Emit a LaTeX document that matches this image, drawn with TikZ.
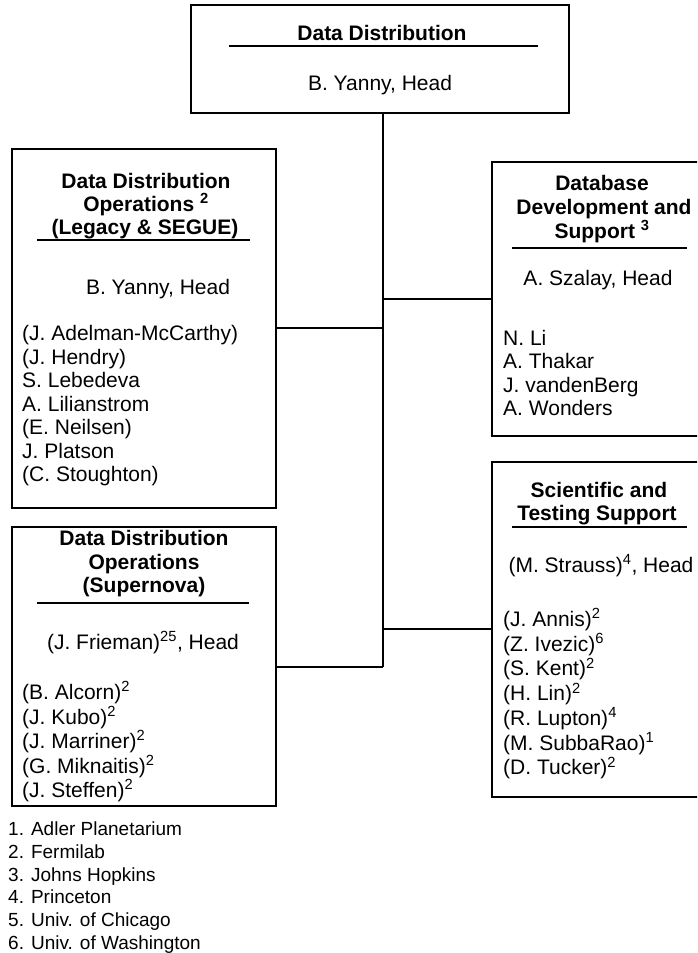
\documentclass[tikz,border=0pt]{standalone}
\usepackage{fontspec}
\setmainfont{Liberation Sans}
\newcommand\orgsize{\fontsize{21}{23.5}\selectfont}
\newcommand\notesize{\fontsize{19}{22}\selectfont}
\begin{document}
\begin{tikzpicture}[x=1pt,y=-1pt,
  orgbox/.style={draw, line width=1.2pt, inner sep=0pt, outer sep=0pt, anchor=north west},
  ttl/.style={anchor=base, inner sep=0pt, font=\orgsize\bfseries},
  txt/.style={anchor=base, inner sep=0pt, font=\orgsize},
  mem/.style={anchor=base west, inner sep=0pt, font=\orgsize},
  note/.style={anchor=base west, inner sep=0pt, font=\notesize},
  hrule/.style={line width=1.1pt},
  link/.style={line width=1.2pt},
  trunk/.style={line width=1.8pt}]
\useasboundingbox (0,0) rectangle (697,953);
\clip (0,0) rectangle (697,953);
\fill[white] (0,0) rectangle (697,953);

% boxes
\node[orgbox, minimum width=378, minimum height=108] (dd)  at (191,5)   {};
\node[orgbox, minimum width=264, minimum height=359] (ops) at (12,149)  {};
\node[orgbox, minimum width=230, minimum height=274] (dbs) at (492,162) {};
\node[orgbox, minimum width=264, minimum height=279] (sn)  at (12,527)  {};
\node[orgbox, minimum width=230, minimum height=335] (sci) at (492,462) {};

% trunk and branches
\coordinate (jA) at (383,299);
\coordinate (jB) at (383,328);
\coordinate (jC) at (383,629);
\coordinate (jD) at (383,667);
\draw[trunk] (dd.south -| jA) -- (jD);
\draw[link] (jA) -- (jA -| dbs.west);
\draw[link] (jB) -- (jB -| ops.east);
\draw[link] (jC) -- (jC -| sci.west);
\draw[link] (jD) -- (jD -| sn.east);

% Data Distribution
\node[ttl] (ddT) at (382,40.5) {Data Distribution};
\draw[hrule] (229,46) -- (538,46);
\node[txt] (ddH) at (380,90.5) {B. Yanny, Head};

% Data Distribution Operations (Legacy & SEGUE)
\node[ttl] (opsT1) at (146,188.5) {Data Distribution};
\node[ttl] (opsT2) at (146,211.5) {Operations \textsuperscript{2}};
\node[ttl] (opsT3) at (145,234.5) {(Legacy \& SEGUE)};
\draw[hrule] (37,240) -- (250,240);
\node[txt] (opsH) at (158,294.5) {B. Yanny, Head};
\foreach \t [count=\i from 0] in {(J. Adelman-McCarthy),(J. Hendry),S. Lebedeva,A. Lilianstrom,(E. Neilsen),J. Platson,(C. Stoughton)}
  \node[mem] (opsM\i) at (22,340.5+23.5*\i) {\t};

% Database Development and Support
\node[ttl] (dbsT1) at (602,190) {Database};
\node[ttl] (dbsT2) at (604,214) {Development and};
\node[ttl] (dbsT3) at (602,238) {Support \textsuperscript{3}};
\draw[hrule] (512,248) -- (687,248);
\node[txt] (dbsH) at (598,285.5) {A. Szalay, Head};
\foreach \t [count=\i from 0] in {N. Li,A. Thakar,J. vandenBerg,A. Wonders}
  \node[mem] (dbsM\i) at (503,345.5+23.3*\i) {\t};

% Data Distribution Operations (Supernova)
\node[ttl] (snT1) at (144,545.5) {Data Distribution};
\node[ttl] (snT2) at (144,569) {Operations};
\node[ttl] (snT3) at (144,592.5) {(Supernova)};
\draw[hrule] (37,603) -- (249,603);
\node[txt] (snH) at (143,649) {(J. Frieman)\textsuperscript{25}, Head};
\foreach \t [count=\i from 0] in {(B. Alcorn),(J. Kubo),(J. Marriner),(G. Miknaitis),(J. Steffen)}
  \node[mem] (snM\i) at (22,699.5+24.5*\i) {\t\textsuperscript{2}};

% Scientific and Testing Support
\node[ttl] (sciT1) at (599,497.5) {Scientific and};
\node[ttl] (sciT2) at (597,520.5) {Testing Support};
\draw[hrule] (512,527) -- (687,527);
\node[txt] (sciH) at (601,572) {(M. Strauss)\textsuperscript{4}, Head};
\foreach \t/\s [count=\i from 0] in {(J. Annis)/2,(Z. Ivezic)/6,(S. Kent)/2,(H. Lin)/2,(R. Lupton)/4,(M. SubbaRao)/1,(D. Tucker)/2}
  \node[mem] (sciM\i) at (503,626.5+24.7*\i) {\t\textsuperscript{\s}};

% affiliations
\foreach \t [count=\i from 0] in {1. Adler Planetarium,2. Fermilab,3. Johns Hopkins,4. Princeton,5. Univ. of Chicago,6. Univ. of Washington}
  \node[note] (fn\i) at (8,835.5+22.8*\i) {\t};
\end{tikzpicture}
\end{document}
